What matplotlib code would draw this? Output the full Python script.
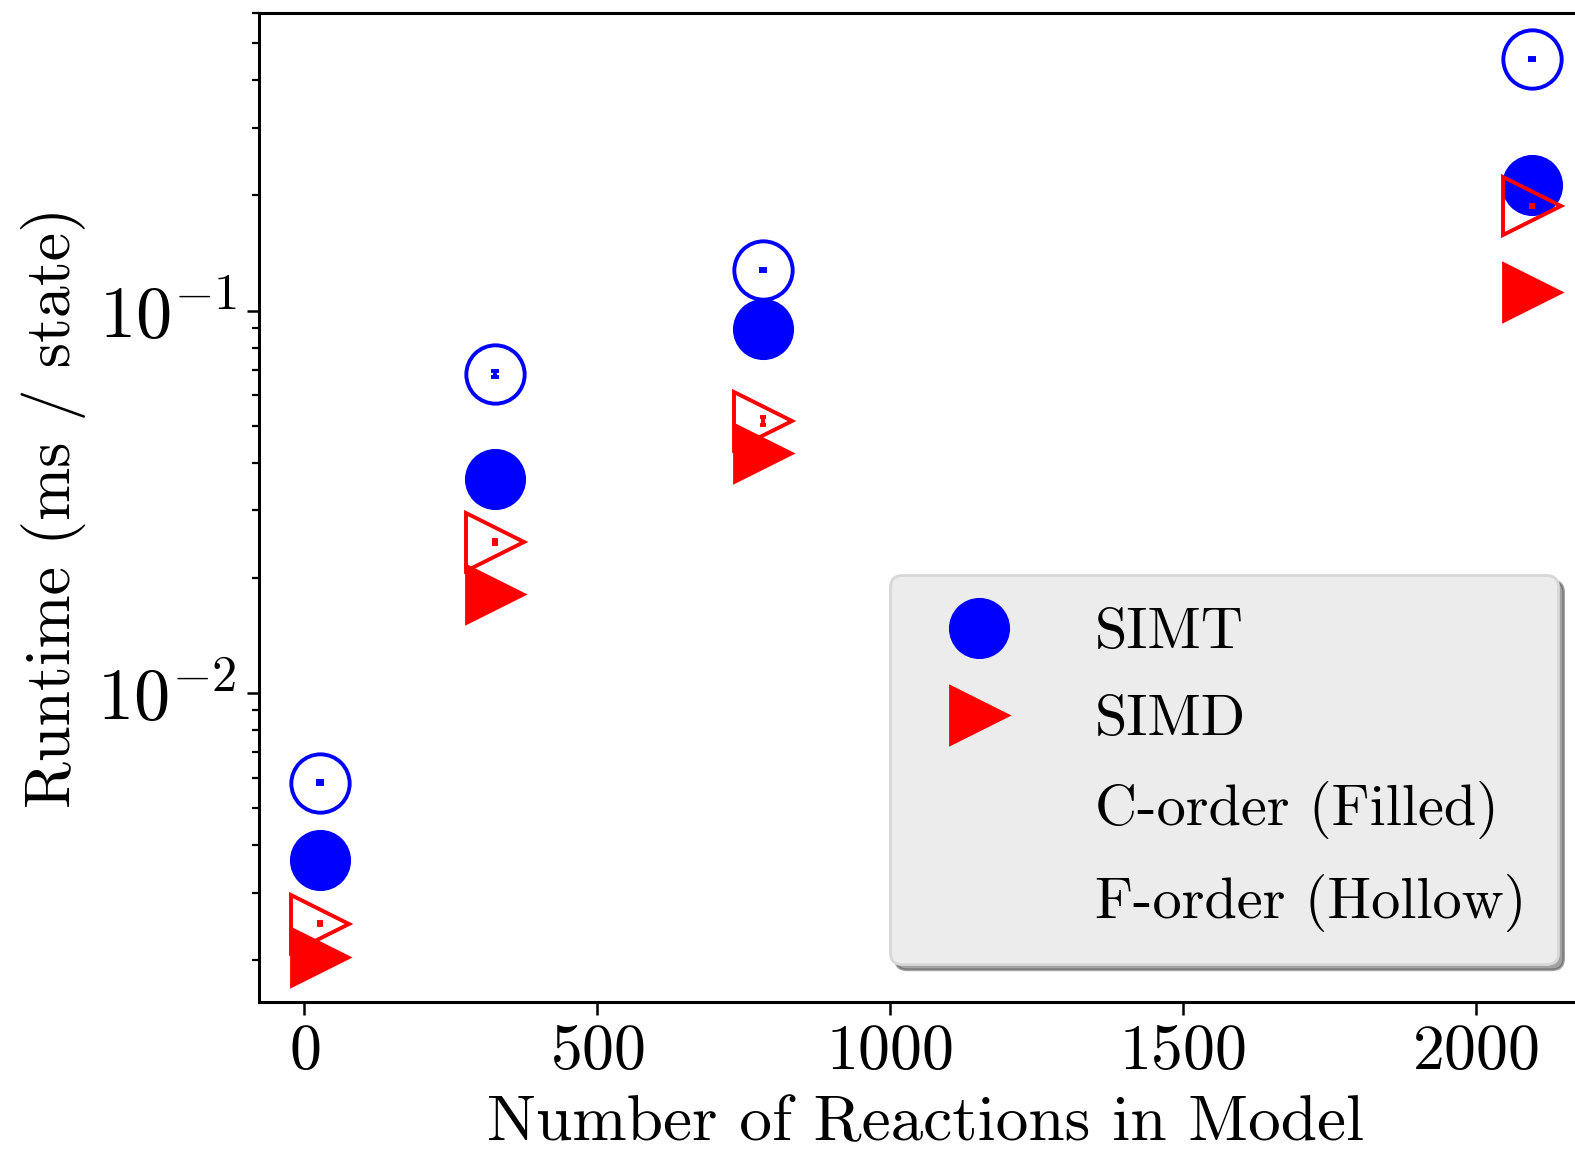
import matplotlib
matplotlib.use("Agg")
import matplotlib.pyplot as plt
from matplotlib.lines import Line2D

plt.rcParams['font.family'] = 'serif'
plt.rcParams['font.serif'] = ['cmr10', 'DejaVu Serif']
plt.rcParams['mathtext.fontset'] = 'cm'
plt.rcParams['axes.unicode_minus'] = False
plt.rcParams['axes.formatter.use_mathtext'] = True

# number of reactions per model
reactions = [26, 325, 783, 2097]

# runtime in ms / state
simt_c = [0.00365, 0.0362, 0.0894, 0.213]
simt_f = [0.00582, 0.0681, 0.1274, 0.455]
simd_c = [0.00204, 0.0181, 0.0423, 0.112]
simd_f = [0.00249, 0.0248, 0.0514, 0.1875]

# tiny spread shown as small bars inside the hollow markers
simt_f_err = [0.00004, 0.0012, 0.0008, 0.003]
simd_f_err = [0.00002, 0.0003, 0.0012, 0.001]

fig = plt.figure(figsize=(7.875, 5.8), dpi=200)
ax = fig.add_axes([0.1644, 0.1366, 1.0114 - 0.1644, 0.9888 - 0.1366])

ms = 21
ax.plot(reactions, simt_c, 'o', color='blue', ms=ms, mec='blue')
ax.errorbar(reactions, simt_f, yerr=simt_f_err, fmt='o', color='blue', ms=ms,
            mfc='none', mec='blue', mew=1.4, elinewidth=1.4, capsize=1.5)
ax.errorbar(reactions, simd_f, yerr=simd_f_err, fmt='>', color='red', ms=ms,
            mfc='none', mec='red', mew=1.4, elinewidth=1.4, capsize=1.0)
ax.plot(reactions, simd_c, '>', color='red', ms=ms, mec='red')

ax.set_yscale('log')
ax.set_xlabel('Number of Reactions in Model', fontsize=23.5, labelpad=5)
ax.set_ylabel('Runtime (ms / state)', fontsize=23, labelpad=4)
ax.tick_params(axis='x', labelsize=23)
ax.tick_params(axis='y', labelsize=26)
ax.tick_params(which='major', length=4.5, width=0.9)
ax.tick_params(which='minor', length=2.5, width=0.8)
for s in ax.spines.values():
    s.set_linewidth(1.1)

handles = [
    Line2D([], [], ls='none', marker='o', color='blue', ms=ms),
    Line2D([], [], ls='none', marker='>', color='red', ms=ms),
    Line2D([], [], ls='none', marker=''),
    Line2D([], [], ls='none', marker=''),
]
labels = ['SIMT', 'SIMD', 'C-order (Filled)', 'F-order (Hollow)']
leg = ax.legend(handles, labels, loc='upper left', bbox_to_anchor=(0.565, 0.504),
                bbox_transform=fig.transFigure, borderaxespad=0, fontsize=21,
                shadow=True, fancybox=True, facecolor='#ececec', edgecolor='#d8d8d8',
                framealpha=1, handlelength=1.96, handletextpad=1.0, labelspacing=0.6,
                borderpad=0.55)

fig.savefig('out.png', dpi=200)
